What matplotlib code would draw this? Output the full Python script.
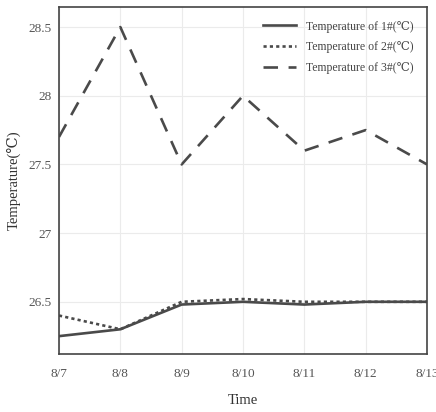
import matplotlib
matplotlib.use("Agg")
import matplotlib.pyplot as plt

days = ["8/7", "8/8", "8/9", "8/10", "8/11", "8/12", "8/13"]
temp1 = [26.25, 26.30, 26.48, 26.50, 26.48, 26.50, 26.50]
temp2 = [26.40, 26.30, 26.50, 26.52, 26.50, 26.50, 26.50]
temp3 = [27.70, 28.50, 27.50, 28.00, 27.60, 27.75, 27.50]
yticks = [26.5, 27, 27.5, 28, 28.5]
ytick_labels = ["26.5", "27", "27.5", "28", "28.5"]

plt.rcParams['font.family'] = ['Liberation Serif', 'DejaVu Serif']

fig = plt.figure(figsize=(4.36, 4.12), dpi=100)
ax = fig.add_axes([59 / 436, 1 - 354 / 412, 368 / 436, 347 / 412])

x = list(range(len(days)))
lc = "#4a4a4a"
ax.plot(x, temp1, color=lc, lw=1.9, ls="-", label="Temperature of 1#(\u2103)")
ax.plot(x, temp2, color=lc, lw=1.9, ls=(0, (1.2, 1.2)), label="Temperature of 2#(\u2103)")
ax.plot(x, temp3, color=lc, lw=1.9, ls=(0, (5.5, 4)), label="Temperature of 3#(\u2103)")

ax.set_xlim(0, len(days) - 1)
ax.set_ylim(26.12, 28.646)
ax.set_xticks(x)
ax.set_xticklabels(days)
ax.set_yticks(yticks)
ax.set_yticklabels(ytick_labels)
ax.grid(True, color="#ebebeb", lw=0.8)
ax.set_axisbelow(True)
ax.tick_params(length=0, labelsize=9.5, colors="#555555")
ax.tick_params(axis="x", pad=10)
ax.tick_params(axis="y", pad=5)
for s in ax.spines.values():
    s.set_color("#444444")
    s.set_linewidth(1.2)

ax.set_xlabel("Time", fontsize=10.5, color="#333333", labelpad=10)
ax.set_ylabel("Temperature(\u2103)", fontsize=10.5, color="#333333", labelpad=6)

leg = ax.legend(loc="upper right", frameon=False, fontsize=8.5, handlelength=2.8,
                labelspacing=0.75, borderaxespad=0.75)
for t in leg.get_texts():
    t.set_color("#444444")

fig.savefig("out.png", dpi=100)
